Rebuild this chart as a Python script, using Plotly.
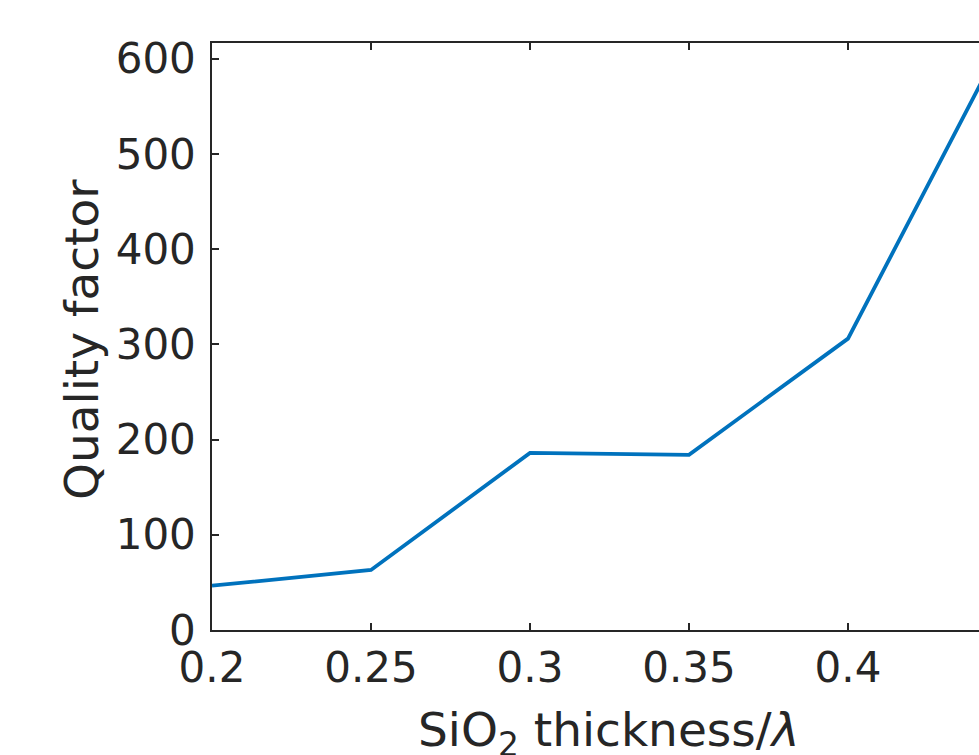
import plotly.graph_objects as go

thickness = [0.2, 0.25, 0.3, 0.35, 0.4, 0.45]
quality = [46.5, 63, 186, 184, 306, 627]

x_ticks = [0.2, 0.25, 0.3, 0.35, 0.4, 0.45]
x_ticktext = ["0.2", "0.25", "0.3", "0.35", "0.4", "0.45"]
y_ticks = [0, 100, 200, 300, 400, 500, 600]

FONT = "DejaVu Sans"
TXT = "#262626"
TICK_SIZE = 42
LABEL_SIZE = 47

fig = go.Figure()
fig.add_trace(go.Scatter(x=thickness, y=quality, mode="lines",
                         line=dict(color="#0072BD", width=3.8),
                         showlegend=False))

W, H = 979, 755
L, R, T, B = 212, 0, 43, 125
pw, ph = W - L - R, H - T - B
y_bot = H - B

fig.update_layout(
    width=W, height=H,
    margin=dict(l=L, r=R, t=T, b=B, pad=0),
    paper_bgcolor="white", plot_bgcolor="white",
    font=dict(family=FONT, size=TICK_SIZE, color=TXT),
    xaxis=dict(range=[0.2, 0.4412], tickvals=x_ticks, ticktext=x_ticktext,
               showgrid=False, zeroline=False, showline=True, linecolor=TXT,
               linewidth=1.5, mirror="ticks", ticks="inside", ticklen=7,
               tickcolor=TXT, tickwidth=1.5, tickfont=dict(size=TICK_SIZE, color=TXT),
               ticklabelstandoff=0),
    yaxis=dict(range=[0, 616.5], tickvals=y_ticks,
               showgrid=False, zeroline=False, showline=True, linecolor=TXT,
               linewidth=1.5, mirror=False, ticks="inside", ticklen=7,
               tickcolor=TXT, tickwidth=1.5, tickfont=dict(size=TICK_SIZE, color=TXT),
               ticklabelstandoff=6),
)

fig.add_annotation(text="Quality factor", xref="paper", yref="paper",
                   x=(81 - L) / pw, y=(y_bot - 340) / ph, showarrow=False,
                   textangle=-90, xanchor="center", yanchor="middle",
                   font=dict(family=FONT, size=LABEL_SIZE, color=TXT))
fig.add_annotation(text="SiO<sub>2</sub> thickness/<i>λ</i>", xref="paper", yref="paper",
                   x=(608 - L) / pw, y=(y_bot - 733) / ph, showarrow=False,
                   xanchor="center", yanchor="middle",
                   font=dict(family=FONT, size=LABEL_SIZE, color=TXT))

fig.write_html("out.html",
               config={"displayModeBar": False},
               post_script="document.body.style.margin='0';"
                           "document.body.style.overflow='hidden';")
